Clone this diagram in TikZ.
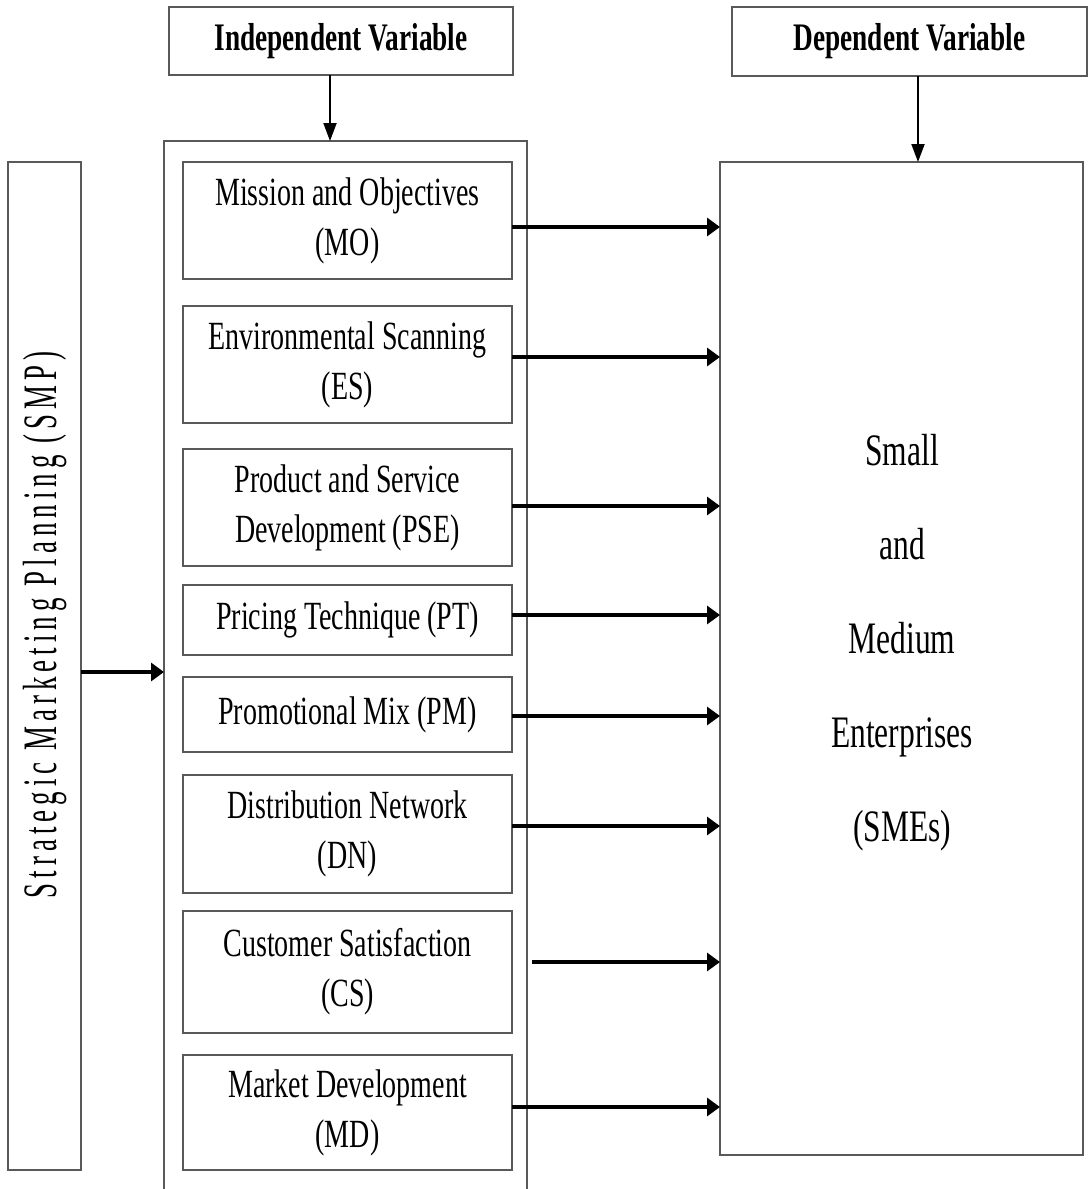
\documentclass[tikz,border=0pt]{standalone}
\usepackage{fontspec}
\setmainfont{Liberation Serif}
\newfontfamily\condfont[FakeStretch=0.7]{Liberation Serif}
\newfontfamily\smpfont[FakeStretch=0.56,LetterSpace=10.5]{Liberation Serif}
\usetikzlibrary{arrows.meta}
\begin{document}
\begin{tikzpicture}[x=0.5pt,y=-0.5pt,
  box/.style={draw=black!65, line width=0.8pt, inner sep=0pt, outer sep=0pt},
  item/.style={box, minimum width=164.5pt, font=\condfont\fontsize{20}{25}\selectfont, align=center},
  title/.style={box, font=\condfont\bfseries\fontsize{19.5}{23}\selectfont},
  harr/.style={line width=1.6pt, -{Triangle[length=6.5pt,width=9pt]}},
  varr/.style={line width=1pt, -{Triangle[length=9pt,width=6.5pt]}},
]
\useasboundingbox (0,0) rectangle (1089,1189);

% header boxes
\node[title, minimum width=172pt, minimum height=34pt] (iv) at (341,41) {Independent Variable};
\node[title, minimum width=177.5pt, minimum height=34.5pt] (dv) at (909.5,41.5) {Dependent Variable};

% outer box (open at bottom)
\coordinate (otl) at (164,141);
\coordinate (otr) at (527,141);
\coordinate (obl) at (164,1189);
\coordinate (obr) at (527,1189);
\draw[draw=black!65, line width=0.8pt] (obl) -- (otl) -- (otr) -- (obr);

% SMP box
\node[box, minimum width=36.5pt, minimum height=504pt] (smp) at (44.5,666) {};
\node[rotate=90, font=\smpfont\fontsize{24}{26}\selectfont] (smptext) at (45,625) {Strategic Marketing Planning (SMP)};

% SME box
\node[box, minimum width=181.5pt, minimum height=496.5pt] (sme) at (901.5,658.5) {};
\node[align=center, font=\condfont\fontsize{22.5}{47}\selectfont] (smetext) at (902,643) {Small\\and\\Medium\\Enterprises\\(SMEs)};

% items
\node[item, minimum height=58.5pt] (mo) at (347.5,220.5) {Mission and Objectives\\(MO)};
\node[item, minimum height=58.5pt] (es) at (347.5,364.5) {Environmental Scanning\\(ES)};
\node[item, minimum height=58.5pt] (pse) at (347.5,507.5) {Product and Service\\Development (PSE)};
\node[item, minimum height=35pt] (pt) at (347.5,620) {Pricing Technique (PT)};
\node[item, minimum height=37.5pt] (pm) at (347.5,714.5) {Promotional Mix (PM)};
\node[item, minimum height=59pt] (dn) at (347.5,834) {Distribution Network\\(DN)};
\node[item, minimum height=61pt] (cs) at (347.5,972) {Customer Satisfaction\\(CS)};
\node[item, minimum height=57.5pt] (md) at (347.5,1112.5) {Market Development\\(MD)};

% vertical arrows
\draw[varr] (iv.south -| 330,0) -- (otl -| 330,0);
\draw[varr] (dv.south -| 918,0) -- (sme.north -| 918,0);

% SMP arrow
\draw[harr] (smp.east |- 0,672) -- (otl |- 0,672);

% item arrows
\draw[harr] (mo.east |- 0,227) -- (sme.west |- 0,227);
\draw[harr] (es.east |- 0,357) -- (sme.west |- 0,357);
\draw[harr] (pse.east |- 0,506) -- (sme.west |- 0,506);
\draw[harr] (pt.east |- 0,615) -- (sme.west |- 0,615);
\draw[harr] (pm.east |- 0,716) -- (sme.west |- 0,716);
\draw[harr] (dn.east |- 0,826) -- (sme.west |- 0,826);
\coordinate (csstart) at (532,962);
\draw[harr] (csstart) -- (sme.west |- csstart);
\draw[harr] (md.east |- 0,1107) -- (sme.west |- 0,1107);
\end{tikzpicture}
\end{document}
